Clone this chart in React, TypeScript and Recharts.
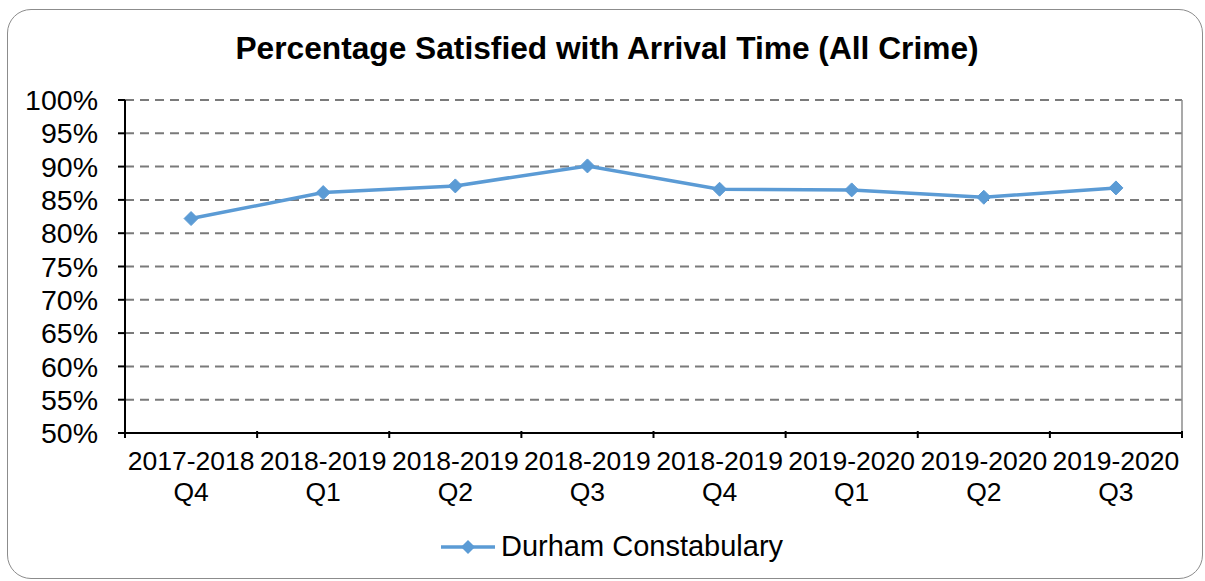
import React from 'react'
import { LineChart, Line, XAxis, YAxis, CartesianGrid, ReferenceLine } from 'recharts'

const quarters = [
  ['2017-2018', 'Q4'],
  ['2018-2019', 'Q1'],
  ['2018-2019', 'Q2'],
  ['2018-2019', 'Q3'],
  ['2018-2019', 'Q4'],
  ['2019-2020', 'Q1'],
  ['2019-2020', 'Q2'],
  ['2019-2020', 'Q3'],
]
const satisfied = [82.2, 86.1, 87.1, 90.1, 86.6, 86.5, 85.4, 86.8]
const yTicks = [50, 55, 60, 65, 70, 75, 80, 85, 90, 95, 100]

const BLUE = '#5B9BD5'
const FONT = '"Liberation Sans", Arial, sans-serif'

const data = satisfied.map((v, i) => ({ pos: i + 0.5, value: v }))
// boundaries (tick marks) and centres (labels)
const xTicks: number[] = []
for (let i = 0; i <= quarters.length; i++) {
  xTicks.push(i)
  if (i < quarters.length) xTicks.push(i + 0.5)
}

const Diamond = (props: any) => {
  const { cx, cy } = props
  if (cx == null || cy == null) return null
  const r = 7
  return (
    <polygon
      points={`${cx},${cy - r} ${cx + r},${cy} ${cx},${cy + r} ${cx - r},${cy}`}
      fill={BLUE}
      stroke={BLUE}
    />
  )
}

const QuarterTick = (props: any) => {
  const { x, y, payload } = props
  const v = payload.value
  if (Number.isInteger(v)) {
    return <line x1={x} y1={y - 2} x2={x} y2={y + 5} stroke="#000" strokeWidth={2} />
  }
  const lbl = quarters[Math.floor(v)]
  return (
    <text x={x} y={y} textAnchor="middle" fontSize={26.5} fontFamily={FONT} fill="#000">
      <tspan x={x} dy={37}>{lbl[0]}</tspan>
      <tspan x={x} dy={31}>{lbl[1]}</tspan>
    </text>
  )
}

export default function App() {
  return (
    <div style={{ position: 'absolute', left: 0, top: 0, width: 1205, height: 581, background: '#fff', overflow: 'hidden' }}>
      <div
        style={{
          position: 'absolute',
          left: 7,
          top: 9,
          width: 1196,
          height: 570,
          border: '1.5px solid #8c8c8c',
          borderRadius: 24,
          boxSizing: 'border-box',
        }}
      />
      <div
        style={{
          position: 'absolute',
          left: 0,
          top: 30,
          width: 1214,
          textAlign: 'center',
          fontFamily: FONT,
          fontWeight: 'bold',
          fontSize: 31.7,
          color: '#000',
        }}
      >
        Percentage Satisfied with Arrival Time (All Crime)
      </div>
      <div style={{ position: 'absolute', left: 0, top: 0 }}>
        <LineChart width={1205} height={581} data={data} margin={{ top: 100, right: 23, bottom: 68, left: 25 }}>
          <CartesianGrid vertical={false} stroke="#7a7a7a" strokeDasharray="9 6" strokeWidth={2} />
          <XAxis
            type="number"
            dataKey="pos"
            domain={[0, quarters.length]}
            ticks={xTicks}
            interval={0}
            height={80}
            tickLine={false}
            tickSize={0}
            tickMargin={0}
            axisLine={{ stroke: '#000', strokeWidth: 2 }}
            tick={<QuarterTick />}
          />
          <YAxis
            domain={[50, 100]}
            ticks={yTicks}
            interval={0}
            width={100}
            tickSize={7}
            tickMargin={20}
            tickFormatter={(v: number) => `${v}%`}
            axisLine={{ stroke: '#000', strokeWidth: 2 }}
            tickLine={{ stroke: '#000', strokeWidth: 2 }}
            tick={{ fill: '#000', fontSize: 28.5, fontFamily: FONT }}
          />
          <ReferenceLine x={quarters.length} stroke="#8c8c8c" strokeWidth={1.5} />
          <Line
            type="linear"
            dataKey="value"
            stroke={BLUE}
            strokeWidth={3.5}
            dot={<Diamond />}
            activeDot={false}
            isAnimationActive={false}
          />
        </LineChart>
      </div>
      <div
        style={{
          position: 'absolute',
          left: 441,
          top: 530,
          display: 'flex',
          alignItems: 'center',
          fontFamily: FONT,
          fontSize: 29,
          color: '#000',
        }}
      >
        <svg width={54} height={20} style={{ marginRight: 6 }}>
          <line x1={0} y1={10} x2={54} y2={10} stroke={BLUE} strokeWidth={3.5} />
          <polygon points="27,3 34,10 27,17 20,10" fill={BLUE} />
        </svg>
        <span>Durham Constabulary</span>
      </div>
    </div>
  )
}
